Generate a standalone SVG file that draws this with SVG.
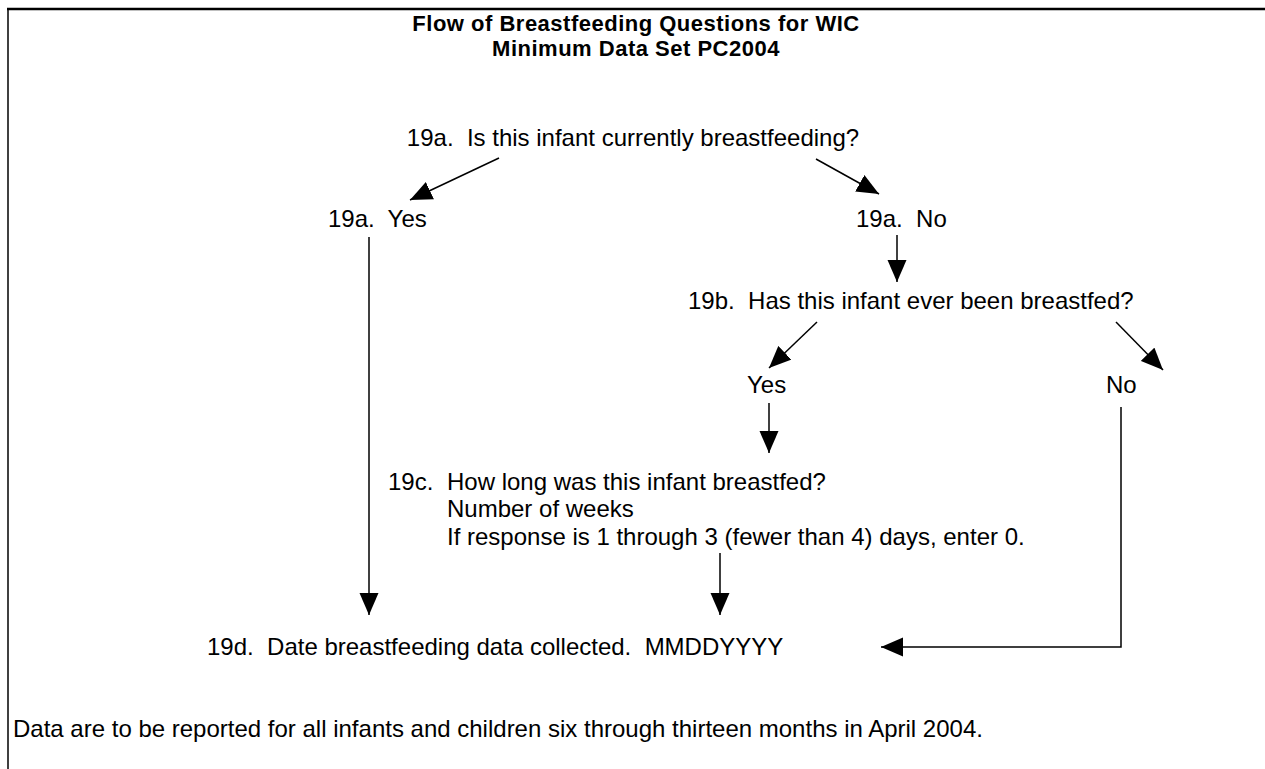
<svg xmlns="http://www.w3.org/2000/svg" width="1265" height="769" viewBox="0 0 1265 769">
<defs>
<style>
text{font-family:"Liberation Sans",Arial,sans-serif;font-size:24px;fill:#000}
.title{font-weight:bold;font-size:22px;letter-spacing:0.5px;text-anchor:middle}
.mid{text-anchor:middle}
.ln{stroke:#000;stroke-width:1.5;fill:none}
</style>
<marker id="ah" markerUnits="userSpaceOnUse" markerWidth="22" markerHeight="20" refX="22" refY="9.5" orient="auto" viewBox="0 0 22 19">
<path d="M0,0 L22,9.5 L0,19 z" fill="#000"/>
</marker>
</defs>
<rect width="1265" height="769" fill="#fff"/>
<g id="frame">
<line x1="7" y1="9" x2="1265" y2="9" stroke="#000" stroke-width="2.5"/>
<line x1="8" y1="8" x2="8" y2="769" stroke="#000" stroke-width="1.5"/>
</g>
<g id="title">
<text class="title" x="636" y="31">Flow of Breastfeeding Questions for WIC</text>
<text class="title" x="636" y="56">Minimum Data Set PC2004</text>
</g>
<g id="q19a"><text class="mid" x="633" y="146" xml:space="preserve">19a.  Is this infant currently breastfeeding?</text></g>
<g id="a19a-yes"><text x="328" y="227" xml:space="preserve">19a.  Yes</text></g>
<g id="a19a-no"><text x="856" y="227" xml:space="preserve">19a.  No</text></g>
<g id="q19b"><text x="688" y="309" xml:space="preserve">19b.  Has this infant ever been breastfed?</text></g>
<g id="a19b-yes"><text x="747" y="393">Yes</text></g>
<g id="a19b-no"><text x="1106" y="393">No</text></g>
<g id="q19c">
<text x="388" y="490">19c.</text>
<text x="447" y="490">How long was this infant breastfed?</text>
<text x="447" y="517">Number of weeks</text>
<text x="447" y="545">If response is 1 through 3 (fewer than 4) days, enter 0.</text>
</g>
<g id="q19d"><text x="207" y="655" xml:space="preserve">19d.  Date breastfeeding data collected.  MMDDYYYY</text></g>
<g id="note"><text x="13" y="737">Data are to be reported for all infants and children six through thirteen months in April 2004.</text></g>
<g id="connectors">
<line class="ln" x1="499" y1="158" x2="410" y2="200" marker-end="url(#ah)"/>
<line class="ln" x1="816" y1="159" x2="879" y2="194" marker-end="url(#ah)"/>
<line class="ln" x1="369" y1="237" x2="369" y2="615" marker-end="url(#ah)"/>
<line class="ln" x1="897" y1="235" x2="897" y2="282" marker-end="url(#ah)"/>
<line class="ln" x1="817" y1="322" x2="769" y2="368" marker-end="url(#ah)"/>
<line class="ln" x1="1116" y1="322" x2="1163" y2="370" marker-end="url(#ah)"/>
<line class="ln" x1="769" y1="403" x2="769" y2="453" marker-end="url(#ah)"/>
<line class="ln" x1="720" y1="553" x2="720" y2="615" marker-end="url(#ah)"/>
<polyline class="ln" points="1121,407 1121,647 881,647" marker-end="url(#ah)"/>
</g>
</svg>
